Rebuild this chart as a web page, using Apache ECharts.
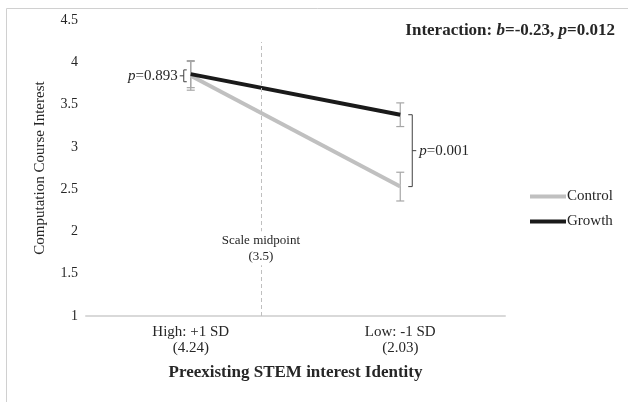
<!DOCTYPE html>
<html>
<head>
<meta charset="utf-8">
<script src="https://cdn.jsdelivr.net/npm/echarts@6/dist/echarts.min.js"></script>
<style>
html,body{margin:0;padding:0;background:#fff;}
#c{width:628px;height:402px;}
</style>
</head>
<body>
<div id="c"></div>
<script>
// ---- data ----
const categories = ['High: +1 SD\n(4.24)', 'Low: -1 SD\n(2.03)'];
const sdValues = [4.24, 2.03];           // preexisting identity at High / Low
const scaleMidpoint = 3.5;
const controlValues = [3.84, 2.53];
const growthValues = [3.86, 3.38];
const controlErr = [0.17, 0.17];
const growthErr = [0.16, 0.14];
const yTicks = [1, 1.5, 2, 2.5, 3, 3.5, 4, 4.5];
const pHigh = 'p=0.893';
const pLow = 'p=0.001';
const midpointLineTop = 4.24;
const midpointLabelY = 1.80;

const FONT = '"Liberation Serif", "Times New Roman", serif';
const TXT = '#262626';
const catX = [0.5, 1.5];
const midX = catX[0] + (sdValues[0] - scaleMidpoint) / (sdValues[0] - sdValues[1]) * (catX[1] - catX[0]);

const chart = echarts.init(document.getElementById('c'), null, {renderer: 'canvas'});

function errData(vals, errs) {
  return vals.map((v, i) => [catX[i], v - errs[i], v + errs[i]]);
}

function errRender(params, api) {
  const x = api.value(0);
  const p1 = api.coord([x, api.value(2)]);
  const p2 = api.coord([x, api.value(1)]);
  const w = 4;
  const st = {stroke: '#a6a6a6', lineWidth: 1.2};
  return {
    type: 'group',
    children: [
      {type: 'line', shape: {x1: p1[0], y1: p1[1], x2: p2[0], y2: p2[1]}, style: st},
      {type: 'line', shape: {x1: p1[0] - w, y1: p1[1], x2: p1[0] + w, y2: p1[1]}, style: st},
      {type: 'line', shape: {x1: p2[0] - w, y1: p2[1], x2: p2[0] + w, y2: p2[1]}, style: st}
    ]
  };
}

const option = {
  animation: false,
  backgroundColor: '#fff',
  textStyle: {fontFamily: FONT, color: TXT},
  title: {
    right: 8, top: 17,
    text: '{b|Interaction: }{i|b}{b|=-0.23, }{i|p}{b|=0.012}',
    textStyle: {
      rich: {
        b: {fontFamily: FONT, fontWeight: 'bold', fontSize: 17, color: TXT},
        i: {fontFamily: FONT, fontWeight: 'bold', fontStyle: 'italic', fontSize: 17, color: TXT}
      }
    }
  },
  legend: {
    orient: 'vertical', left: 525, top: 184,
    data: ['Control', 'Growth'],
    icon: 'rect', itemWidth: 36, itemHeight: 4, itemGap: 10,
    textStyle: {fontFamily: FONT, fontSize: 15, color: TXT, padding: [0, 0, 0, -4]}
  },
  grid: {left: 86, right: 123, top: 20, bottom: 86, containLabel: false},
  xAxis: {
    type: 'value', min: 0, max: 2, interval: 0.5,
    name: 'Preexisting STEM interest Identity',
    nameLocation: 'middle', nameGap: 48,
    nameTextStyle: {fontFamily: FONT, fontWeight: 'bold', fontSize: 17, color: TXT},
    axisLine: {show: true, lineStyle: {color: '#d9d9d9', width: 2}},
    axisTick: {show: false},
    splitLine: {show: false},
    axisLabel: {
      margin: 8, fontFamily: FONT, fontSize: 15, color: TXT, lineHeight: 16,
      formatter: v => { const i = catX.indexOf(v); return i >= 0 ? categories[i] : ''; }
    }
  },
  yAxis: {
    type: 'value', min: yTicks[0], max: yTicks[yTicks.length - 1], interval: 0.5,
    name: 'Computation Course Interest',
    nameLocation: 'middle', nameGap: 38,
    nameTextStyle: {fontFamily: FONT, fontSize: 15, color: TXT},
    axisLine: {show: false}, axisTick: {show: false},
    splitLine: {show: false},
    axisLabel: {margin: 8, fontFamily: FONT, fontSize: 14, color: TXT,
      formatter: v => String(v)}
  },
  series: [
    {type: 'custom', name: 'errC', renderItem: errRender, data: errData(controlValues, controlErr), z: 1, silent: true},
    {type: 'custom', name: 'errG', renderItem: errRender, data: errData(growthValues, growthErr), z: 1, silent: true},
    {
      type: 'line', name: 'Control', z: 2,
      data: controlValues.map((v, i) => [catX[i], v]),
      symbol: 'none', color: '#c0c0c0',
      lineStyle: {color: '#c0c0c0', width: 4},
      markLine: {
        silent: true, symbol: 'none', label: {show: false},
        lineStyle: {color: '#bfbfbf', type: [4, 3], width: 1},
        data: [[{coord: [midX, yTicks[0]]}, {coord: [midX, midpointLineTop]}]]
      }
    },
    {
      type: 'line', name: 'Growth', z: 3,
      data: growthValues.map((v, i) => [catX[i], v]),
      symbol: 'none', color: '#1a1a1a',
      lineStyle: {color: '#1a1a1a', width: 4}
    }
  ]
};
chart.setOption(option);

// annotations positioned from data via the chart's scales
const px = (x, y) => chart.convertToPixel({xAxisIndex: 0, yAxisIndex: 0}, [x, y]);
const g = [];
const bst = {stroke: '#404040', lineWidth: 1, fill: null};
const rich = {i: {fontFamily: FONT, fontStyle: 'italic', fontSize: 15, fill: TXT}, n: {fontFamily: FONT, fontSize: 15, fill: TXT}};

// frame
g.push({type: 'rect', shape: {x: 6.5, y: 8.5, width: 800, height: 600}, style: {stroke: '#d0d0d0', lineWidth: 1, fill: null}, z: 0, silent: true});

// High bracket (small, left of point)
{
  const a = px(catX[0], growthValues[0] + 0.05), b = px(catX[0], controlValues[0] - 0.07);
  const bx = a[0] - 7;
  const my = (a[1] + b[1]) / 2;
  g.push({type: 'polyline', shape: {points: [[bx + 3, a[1]], [bx, a[1]], [bx, b[1]], [bx + 3, b[1]]]}, style: bst});
  g.push({type: 'line', shape: {x1: bx - 4, y1: my, x2: bx, y2: my}, style: bst});
  g.push({type: 'text', style: {x: bx - 6, y: my, text: '{i|p}{n|' + pHigh.slice(1) + '}', align: 'right', verticalAlign: 'middle', rich: rich}});
}
// Low bracket (right of points)
{
  const a = px(catX[1], growthValues[1]), b = px(catX[1], controlValues[1]);
  const bx = a[0] + 12;
  const my = (a[1] + b[1]) / 2;
  g.push({type: 'polyline', shape: {points: [[bx - 4, a[1]], [bx, a[1]], [bx, b[1]], [bx - 4, b[1]]]}, style: bst});
  g.push({type: 'line', shape: {x1: bx, y1: my, x2: bx + 4, y2: my}, style: bst});
  g.push({type: 'text', style: {x: bx + 7, y: my, text: '{i|p}{n|' + pLow.slice(1) + '}', align: 'left', verticalAlign: 'middle', rich: rich}});
}
// midpoint label
{
  const m = px(midX, midpointLabelY);
  g.push({type: 'text', z: 5, style: {x: m[0], y: m[1], text: 'Scale midpoint\n(' + scaleMidpoint + ')', align: 'center', verticalAlign: 'middle',
    fontFamily: FONT, fontSize: 13, lineHeight: 16, fill: TXT, backgroundColor: '#fff', padding: [1, 2]}});
}
chart.setOption({graphic: g});
</script>
</body>
</html>
